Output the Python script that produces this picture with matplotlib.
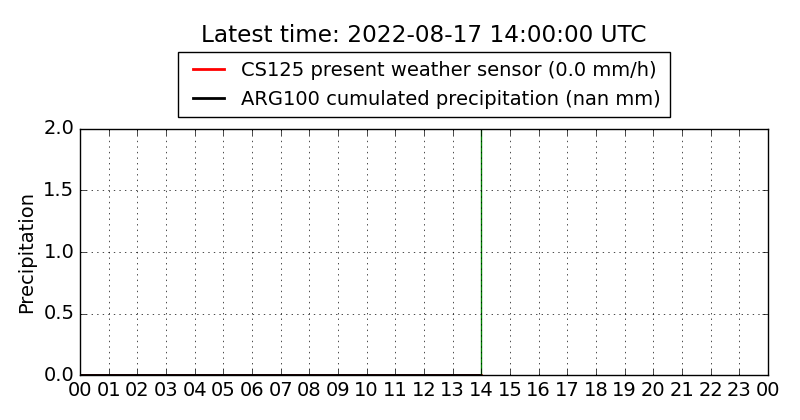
import matplotlib
matplotlib.use('Agg')
import matplotlib.pyplot as plt

plt.style.use('classic')

hours = list(range(0, 15))
cs125 = [0.0] * 15
arg100 = [0.0] * 15
latest_hour = 14
tick_pos = list(range(0, 25))
tick_labels = ['%02d' % (h % 24) for h in tick_pos]

fig = plt.figure(figsize=(8, 4.2), dpi=100, facecolor='white')
ax = fig.add_axes([0.1, 0.107, 0.86, 0.586])

ax.plot(hours, cs125, color='red', linewidth=2,
        label='CS125 present weather sensor (0.0 mm/h)')
ax.plot([h - 0.03 for h in hours], arg100, color='black', linewidth=2,
        label='ARG100 cumulated precipitation (nan mm)')
ax.axvline(latest_hour, color='green', linewidth=1)

ax.set_xlim(0, 24)
ax.set_ylim(0, 2.0)
ax.set_xticks(tick_pos)
ax.set_xticklabels(tick_labels)
ax.set_yticks([0, 0.5, 1.0, 1.5, 2.0])
ax.tick_params(labelsize=14)
ax.set_ylabel('Precipitation', fontsize=14)
ax.grid(True, color='black', linestyle=':')

ax.legend(loc='lower center', bbox_to_anchor=(0.5, 1.0), fontsize=14,
          handlelength=2.2, handletextpad=0.6, borderpad=0.45,
          borderaxespad=0.6)
fig.text(0.53, 1 - 35 / 420.0, 'Latest time: 2022-08-17 14:00:00 UTC',
         fontsize=16.7, ha='center', va='center')

fig.savefig('out.png', dpi=100, facecolor='white')
